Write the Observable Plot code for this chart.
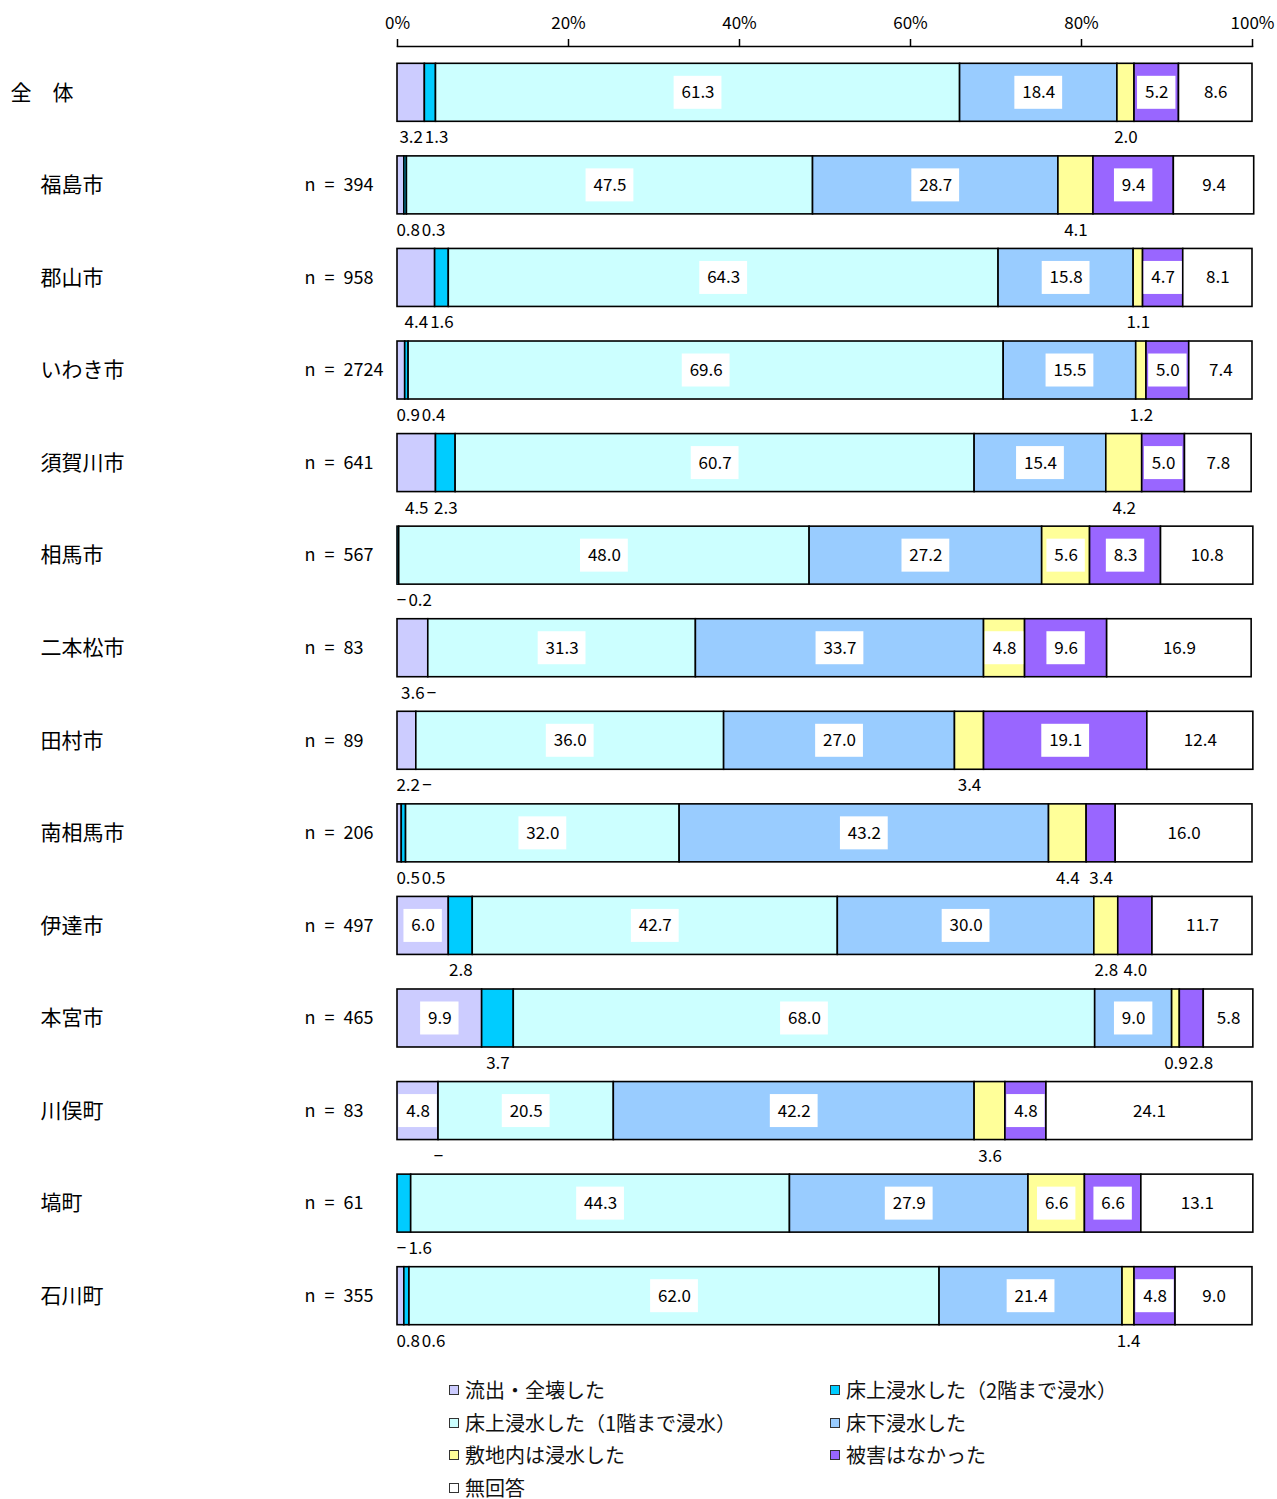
<!DOCTYPE html>
<html><head><meta charset="utf-8">
<script src="https://cdn.jsdelivr.net/npm/d3@7"></script>
<script src="https://cdn.jsdelivr.net/npm/@observablehq/plot@0.6"></script>
<style>
body{margin:0;background:#fff;font-family:"Noto Sans CJK JP",sans-serif;color:#111;overflow:hidden;}
#chart svg{display:block;}
#legend{display:grid;grid-template-columns:381px 420px;margin-left:449px;margin-top:18px;row-gap:12.6px;}
.item{height:20px;display:flex;align-items:center;font-size:20px;line-height:20px;white-space:nowrap;}
.sw{width:10px;height:10px;border:1px solid #333;margin-right:6px;box-sizing:border-box;flex:none;}
</style></head><body>
<div id="chart"></div>
<div id="legend"></div>
<script>
// categories (stack order) and colours
const categories = ["流出・全壊した","床上浸水した（2階まで浸水）","床上浸水した（1階まで浸水）","床下浸水した","敷地内は浸水した","被害はなかった","無回答"];
const colors = ["#CCCCFF","#00CCFF","#CCFFFF","#99CCFF","#FFFF99","#9966FF","#FFFFFF"];
// rows
const groups = ["全　体","福島市","郡山市","いわき市","須賀川市","相馬市","二本松市","田村市","南相馬市","伊達市","本宮市","川俣町","塙町","石川町"];
const sampleSizes = [null,394,958,2724,641,567,83,89,206,497,465,83,61,355];
// series values (%) per category, in row order
const ryushutsu   = [3.2,0.8,4.4,0.9,4.5,0,3.6,2.2,0.5,6.0,9.9,4.8,0,0.8];
const yukaue2     = [1.3,0.3,1.6,0.4,2.3,0.2,0,0,0.5,2.8,3.7,0,1.6,0.6];
const yukaue1     = [61.3,47.5,64.3,69.6,60.7,48.0,31.3,36.0,32.0,42.7,68.0,20.5,44.3,62.0];
const yukashita   = [18.4,28.7,15.8,15.5,15.4,27.2,33.7,27.0,43.2,30.0,9.0,42.2,27.9,21.4];
const shikichi    = [2.0,4.1,1.1,1.2,4.2,5.6,4.8,3.4,4.4,2.8,0.9,3.6,6.6,1.4];
const higainashi  = [5.2,9.4,4.7,5.0,5.0,8.3,9.6,19.1,3.4,4.0,2.8,4.8,6.6,4.8];
const mukaitou    = [8.6,9.4,8.1,7.4,7.8,10.8,16.9,12.4,16.0,11.7,5.8,24.1,13.1,9.0];
const xTicks = [0,20,40,60,80,100];

const series = [ryushutsu,yukaue2,yukaue1,yukashita,shikichi,higainashi,mukaitou];
const W = 1277, H = 1362, mL = 397, mR = 25, mT = 46, mB = 20;
const pxPer = (W - mL - mR) / 100;
const FS = 17;
function textW(s){let w=0;for(const c of s){w+= c==="."?4.6:(c==="−"?10:9.4);}return w;}

const segs = [], inLabels = [], outLabels = [];
groups.forEach((g,i)=>{
  let acc = 0; const below = [];
  series.forEach((s,j)=>{
    const v = s[i], x1 = acc, x2 = acc + v; acc = x2;
    segs.push({g, cat: categories[j], x1, x2});
    const c = (x1 + x2) / 2;
    if (v >= 4.6) { const t = v.toFixed(1); inLabels.push({g, x: c, text: t, w: textW(t) + 15}); }
    else if (v > 0 || j < 2) below.push({g, x: c, text: v > 0 ? v.toFixed(1) : "−"});
  });
  below.sort((a,b)=>a.x-b.x);
  let prevRight = -Infinity;
  for (const b of below) {
    const w = textW(b.text);
    const left = Math.max(b.x*pxPer - w/2, -1, prevRight + 2);
    b.x = (left + w/2) / pxPer; prevRight = left + w;
    outLabels.push(b);
  }
});

const rows = groups.map((g,i)=>({g, n: sampleSizes[i]}));

const chart = Plot.plot({
  width: W, height: H, marginLeft: mL, marginRight: mR, marginTop: mT, marginBottom: mB,
  style: {fontFamily: '"Noto Sans CJK JP", sans-serif', fontSize: "17px", color: "#000", background: "#fff", overflow: "visible"},
  x: {domain: [0,100], axis: null},
  y: {domain: groups, axis: null, paddingInner: 0.3735, paddingOuter: 0.187, round: false},
  color: {domain: categories, range: colors},
  marks: [
    Plot.barX(segs, {x1: "x1", x2: "x2", y: "g", fill: "cat", stroke: "#000", strokeWidth: 1.6}),
    Plot.barX(inLabels, {x1: d => d.x - d.w/2/pxPer, x2: d => d.x + d.w/2/pxPer, y: "g", fill: "#fff", insetTop: 12.5, insetBottom: 12.5}),
    Plot.text(inLabels, {x: "x", y: "g", text: "text", fontSize: FS, fill: "#000"}),
    Plot.text(outLabels, {x: "x", y: "g", text: "text", dy: 45, fontSize: FS, fill: "#000"}),
    Plot.axisX({anchor: "top", ticks: xTicks, tickFormat: d => d + "%", tickSize: 8, tickPadding: 10, fontSize: FS, label: null, stroke: "#000", strokeWidth: 1.5}),
    Plot.frame({anchor: "top", stroke: "#000", strokeWidth: 1.5}),
    Plot.text(rows.filter(r => r.n === null), {y: "g", text: "g", frameAnchor: "left", textAnchor: "start", dx: -387, fontSize: 21, fill: "#000"}),
    Plot.text(rows.filter(r => r.n !== null), {y: "g", text: "g", frameAnchor: "left", textAnchor: "start", dx: -357, fontSize: 21, fill: "#000"}),
    Plot.text(rows.filter(r => r.n !== null), {y: "g", text: r => "n\u2002=\u2002" + r.n, frameAnchor: "left", textAnchor: "start", dx: -93, fontSize: 18, fill: "#000"})
  ]
});
document.getElementById("chart").appendChild(chart);

// legend (two columns)
const leg = document.getElementById("legend");
categories.forEach((cat,k)=>{
  const it = document.createElement("div"); it.className = "item";
  const sw = document.createElement("span"); sw.className = "sw"; sw.style.background = colors[k];
  const tx = document.createElement("span"); tx.textContent = cat;
  it.appendChild(sw); it.appendChild(tx); leg.appendChild(it);
});
</script>
</body></html>
